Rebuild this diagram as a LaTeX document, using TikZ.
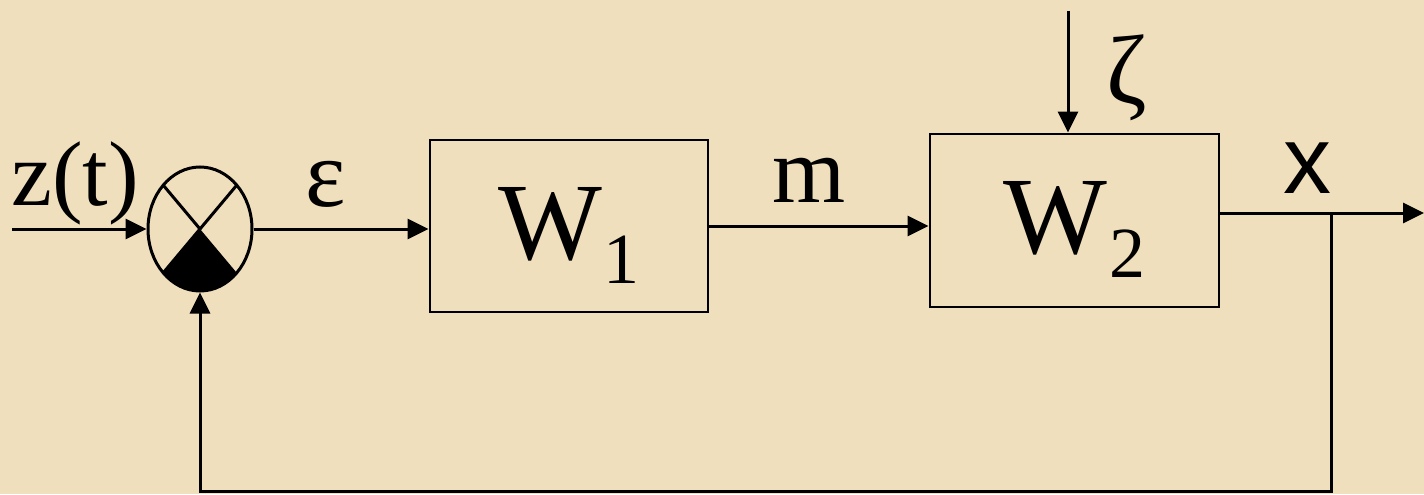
\documentclass[tikz,border=0pt]{standalone}
\usepackage{fontspec}
\setmainfont{Liberation Serif}
\newfontfamily\arialfont{Liberation Sans}
\usepackage{tikz}
\usetikzlibrary{arrows.meta,shapes.geometric}
\definecolor{pcparch}{RGB}{240,223,188}
\definecolor{pcink}{RGB}{0,0,0}

\tikzset{
  sumnode/.style={draw=pcink, ellipse, line width=1.5pt, inner sep=0pt,
                  minimum width=52pt, minimum height=62pt},
  blockbox/.style={draw=pcink, rectangle, line width=1.4pt, inner sep=0pt,
                   text height=45pt, text depth=12pt,
                   font=\rmfamily\fontsize{55}{60}\selectfont},
  sig/.style={draw=pcink, line width=1.5pt,
              -{Triangle[length=10.5pt,width=10pt]}},
  lbl/.style={inner sep=0pt, anchor=base}
}
\newcommand{\blocksub}[1]{\raisebox{-12pt}{\rmfamily\fontsize{36}{40}\selectfont #1}}

\begin{document}
\begin{tikzpicture}[x=0.5pt, y=0.5pt]
        \fill[pcparch] (0,0) rectangle (1424,494);
        \useasboundingbox (0,0) rectangle (1424,494);

        % summing point and the two blocks
        \node[sumnode] (sum) at (200,265) {};
        \node[blockbox, minimum width=139pt, minimum height=86pt] (w1) at (569,268)
            {W\kern1pt\blocksub{1}};
        \node[blockbox, minimum width=144.5pt, minimum height=86.5pt] (w2) at (1074.5,273.5)
            {W\kern1pt\blocksub{2}};

        % crossed lines and black lower quarter
        \draw[line width=1.5pt] (sum.center) -- ++(45:26pt and 31pt);
        \draw[line width=1.5pt] (sum.center) -- ++(135:26pt and 31pt);
        \draw[line width=1.5pt] (sum.center) -- ++(225:26pt and 31pt);
        \fill[pcink] (sum.center) -- ++(225:26pt and 31pt)
            arc[start angle=225, end angle=315, x radius=26pt, y radius=31pt] -- cycle;

        \coordinate (zin) at (12,265);
        \coordinate (zeta) at (1068,483);
        \coordinate (xout) at (1424,281);
        \coordinate (branch) at (1331,281);
        \coordinate (fbc) at (1331,3);

        % signals
        \draw[sig] (zin) -- (sum.west);
        \draw[sig] (sum.east) -- (sum.east -| w1.west);
        \draw[sig] (w1.east) -- (w1.east -| w2.west);
        \draw[sig] (zeta) -- (zeta |- w2.north);
        \draw[sig] (w2.east |- xout) -- (xout);
        \draw[sig] (branch) -- (fbc) -| (sum.south);

        % labels
        \node[lbl, font=\rmfamily\fontsize{46}{50}\selectfont] (zlbl) at (75,289) {z(t)};
        \node[lbl, font=\rmfamily\fontsize{48}{50}\selectfont] (elbl) at (326,288) {ε};
        \node[lbl, font=\rmfamily\fontsize{47}{50}\selectfont] (mlbl) at (809,292) {m};
        \node[inner sep=0pt, font=\rmfamily\fontsize{49}{50}\selectfont] (zetalbl) at (1127,416.5) {ζ};
        \node[lbl, font=\arialfont\fontsize{48}{50}\selectfont] (xlbl) at (1307,301) {x};
    \end{tikzpicture}
\end{document}
